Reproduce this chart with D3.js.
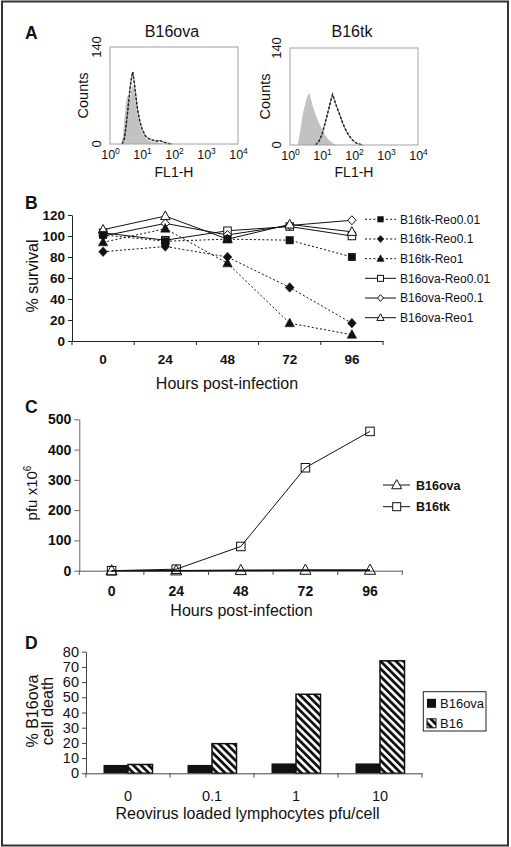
<!DOCTYPE html>
<html><head><meta charset="utf-8">
<script src="https://cdn.jsdelivr.net/npm/d3@7/dist/d3.min.js"></script>
<style>
body{margin:0;background:#fff}
svg{display:block}
text{font-family:"Liberation Sans",Arial,Helvetica,sans-serif;fill:#111}
</style></head><body>
<svg id="fig" width="511" height="847"></svg>
<script>
// ---------------- DATA ----------------
// Panel A: flow cytometry histograms, points are [log10(FL1-H), counts]
const histExponents = ["0","1","2","3","4"];
const countTicks = [0,140];
const histTitles = ["B16ova","B16tk"];
const ovaControl = [[0.35,0],[0.4,10],[0.45,35],[0.5,60],[0.54,70],[0.58,66],[0.62,64],[0.66,76],[0.7,84],[0.74,82],[0.8,62],[0.86,42],[0.94,25],[1.02,15],[1.1,9],[1.2,5],[1.35,3],[1.5,2],[1.7,0]];
const ovaStained = [[0.38,0],[0.45,8],[0.5,25],[0.56,50],[0.62,78],[0.67,95],[0.71,104],[0.75,92],[0.8,72],[0.86,50],[0.93,33],[1.0,22],[1.1,12],[1.2,8],[1.3,6],[1.45,4],[1.56,5],[1.65,3],[1.8,1],[1.95,0]];
const tkControl = [[0.24,0],[0.3,15],[0.4,45],[0.5,64],[0.56,72],[0.6,75],[0.64,69],[0.7,58],[0.8,44],[0.9,32],[1.0,23],[1.1,14],[1.2,8],[1.3,4],[1.4,1],[1.5,0]];
const tkStained = [[0.8,0],[0.9,5],[1.0,15],[1.1,32],[1.2,50],[1.28,65],[1.33,73],[1.38,66],[1.46,55],[1.56,43],[1.66,30],[1.77,19],[1.9,10],[2.0,5],[2.1,2],[2.28,0]];

// Panel B: % survival
const hours = ["0","24","48","72","96"];
const survivalTicks = [0,20,40,60,80,100,120];
const survivalNames = ["B16tk-Reo0.01","B16tk-Reo0.1","B16tk-Reo1","B16ova-Reo0.01","B16ova-Reo0.1","B16ova-Reo1"];
const tkReo001  = [101,95,97,96,80];
const tkReo01   = [85,90,80,51,17];
const tkReo1    = [94,107,74,17,6];
const ovaReo001 = [103,96,105,109,100];
const ovaReo01  = [100,112,101,110,115];
const ovaReo1   = [106,119,97,111,104];

// Panel C: pfu x10^6
const pfuTicks = [0,100,200,300,400,500];
const pfuNames = ["B16ova","B16tk"];
const pfuOva = [0,0,1,2,2];
const pfuTk  = [0,5,80,340,460];

// Panel D: % B16ova cell death
const moi = ["0","0.1","1","10"];
const deathTicks = [0,10,20,30,40,50,60,70,80];
const deathNames = ["B16ova","B16"];
const deathOva = [5.5,5.5,6.5,6.5];
const deathB16 = [5.8,19.5,52,74];

// ---------------- DRAW ----------------
const svg = d3.select("#fig");
svg.append("rect").attr("width",511).attr("height",847).attr("fill","#fff");
svg.append("rect").attr("x",2).attr("y",1.5).attr("width",506).attr("height",844)
  .attr("fill","none").attr("stroke","#333").attr("stroke-width",2);

const defs = svg.append("defs");
const pat = defs.append("pattern").attr("id","hatch").attr("patternUnits","userSpaceOnUse")
  .attr("width",5.4).attr("height",5.4).attr("patternTransform","rotate(-45)");
pat.append("rect").attr("width",5.4).attr("height",5.4).attr("fill","#fff");
pat.append("rect").attr("width",2.8).attr("height",5.4).attr("fill","#111");

function letter(t,x,y){
  svg.append("text").attr("x",x).attr("y",y).attr("font-size",17.5).attr("font-weight","bold").text(t);
}
function marker(g,type,open,x,y,s){
  let el;
  if(type==="square") el=g.append("rect").attr("x",x-s/2).attr("y",y-s/2).attr("width",s).attr("height",s);
  else if(type==="diamond") el=g.append("path").attr("d",`M${x},${y-s*0.6}L${x+s*0.55},${y}L${x},${y+s*0.6}L${x-s*0.55},${y}Z`);
  else el=g.append("path").attr("d",`M${x},${y-s*0.6}L${x+s*0.56},${y+s*0.42}L${x-s*0.56},${y+s*0.42}Z`);
  el.attr("fill",open?"#fff":"#111").attr("stroke","#111").attr("stroke-width",open?1:0.5);
  return el;
}
function styleAxis(g,size,weight,color){
  g.selectAll("text").attr("font-size",size).attr("font-weight",weight).attr("fill","#111")
   .attr("font-family","Liberation Sans, Arial, sans-serif");
  g.selectAll("line,path").attr("stroke",color);
}

// ---------- Panel A ----------
letter("A",25,39);
function hist(cfg){
  const x=d3.scaleLinear().domain([0,4]).range([cfg.left,cfg.right]);
  const y=d3.scaleLinear().domain([0,140]).range([cfg.bottom,cfg.top]);
  const g=svg.append("g");
  g.append("path").datum(cfg.control)
    .attr("d",d3.area().x(d=>x(d[0])).y0(y(0)).y1(d=>y(d[1])))
    .attr("fill","#c2c2c2");
  g.append("path").datum(cfg.stained)
    .attr("d",d3.line().x(d=>x(d[0])).y(d=>y(d[1])))
    .attr("fill","none").attr("stroke","#666").attr("stroke-width",0.8);
  g.append("path").datum(cfg.stained)
    .attr("d",d3.line().x(d=>x(d[0])).y(d=>y(d[1])))
    .attr("fill","none").attr("stroke","#222").attr("stroke-width",1.5).attr("stroke-dasharray","2.5,1.8");
  g.append("rect").attr("x",cfg.left).attr("y",cfg.top).attr("width",cfg.right-cfg.left)
    .attr("height",cfg.bottom-cfg.top).attr("fill","none").attr("stroke","#a0a0a0").attr("stroke-width",1);
  const ax=g.append("g").attr("transform",`translate(0,${cfg.bottom})`)
    .call(d3.axisBottom(x).tickValues(histExponents.map(Number)).tickSize(0).tickPadding(9).tickFormat(""));
  ax.select(".domain").remove();
  ax.selectAll(".tick text").each(function(d){
    const t=d3.select(this).attr("font-size",12.5).attr("fill","#111").attr("dy",null).attr("y",14.5);
    t.append("tspan").text("10");
    t.append("tspan").attr("dy",-5).attr("font-size",8.5).text(histExponents[d]);
  });
  countTicks.forEach(v=>{
    g.append("text").attr("transform",`translate(${cfg.left-9},${y(v)}) rotate(-90)`)
      .attr("text-anchor","middle").attr("font-size",13).text(v);
  });
  g.append("text").attr("transform",`translate(${cfg.countsX},${(cfg.top+cfg.bottom)/2}) rotate(-90)`)
    .attr("text-anchor","middle").attr("font-size",14.5).text("Counts");
  g.append("text").attr("x",(cfg.left+cfg.right)/2-2).attr("y",37.3).attr("text-anchor","middle")
    .attr("font-size",16).text(cfg.title);
  g.append("text").attr("x",(cfg.left+cfg.right)/2-0).attr("y",176.5).attr("text-anchor","middle")
    .attr("font-size",14).text("FL1-H");
}
hist({left:110,right:238,top:47,bottom:144,control:ovaControl,stained:ovaStained,title:histTitles[0],countsX:88});
hist({left:290,right:418,top:48,bottom:145,control:tkControl,stained:tkStained,title:histTitles[1],countsX:270});

// ---------- Panel B ----------
letter("B",25,209.3);
{
  const x=d3.scaleBand().domain(hours).range([72,383]);
  const y=d3.scaleLinear().domain([0,120]).range([341,215]);
  const g=svg.append("g");
  const ya=g.append("g").attr("transform","translate(72,0)")
    .call(d3.axisLeft(y).tickValues(survivalTicks).tickSize(4).tickSizeOuter(0).tickPadding(3));
  styleAxis(ya,13.5,"bold","#222");
  const xa=g.append("g").attr("transform","translate(0,341)")
    .call(d3.axisBottom(x).tickSize(0).tickSizeOuter(0).tickPadding(13));
  styleAxis(xa,13.5,"bold","#222");
  const bounds=hours.map(h=>x(h)).concat([x.range()[1]]);
  g.selectAll(".bt").data(bounds).enter().append("line")
    .attr("x1",d=>d).attr("x2",d=>d).attr("y1",341).attr("y2",345).attr("stroke","#222");
  g.append("text").attr("x",227).attr("y",389).attr("text-anchor","middle").attr("font-size",16).text("Hours post-infection");
  g.append("text").attr("transform","translate(37.5,276) rotate(-90)").attr("text-anchor","middle")
    .attr("font-size",16).text("% survival");

  const series=[
    {name:survivalNames[3],vals:ovaReo001,type:"square",open:true,dash:false,s:7.5,ls:6},
    {name:survivalNames[4],vals:ovaReo01,type:"diamond",open:true,dash:false,s:7.5,ls:5.5},
    {name:survivalNames[5],vals:ovaReo1,type:"triangle",open:true,dash:false,s:8.5,ls:6.5},
    {name:survivalNames[0],vals:tkReo001,type:"square",open:false,dash:true,s:7.5,ls:5.5},
    {name:survivalNames[1],vals:tkReo01,type:"diamond",open:false,dash:true,s:8,ls:6},
    {name:survivalNames[2],vals:tkReo1,type:"triangle",open:false,dash:true,s:8.5,ls:6.5}
  ];
  const line=d3.line().x((d,i)=>x(hours[i])+x.bandwidth()/2).y(d=>y(d));
  series.forEach(s=>{
    g.append("path").datum(s.vals).attr("d",line).attr("fill","none").attr("stroke","#111")
      .attr("stroke-width",1).attr("stroke-dasharray",s.dash?"2,2.2":null);
  });
  series.forEach(s=>{
    s.vals.forEach((v,i)=>marker(g,s.type,s.open,x(hours[i])+x.bandwidth()/2,y(v),s.s));
  });
  // legend
  const order=[3,4,5,0,1,2];
  const ly=d3.scalePoint().domain(survivalNames).range([219.3,317.7]);
  order.forEach(k=>{
    const s=series[k]; const yy=ly(s.name);
    g.append("line").attr("x1",365).attr("x2",396).attr("y1",yy).attr("y2",yy)
      .attr("stroke","#111").attr("stroke-width",1).attr("stroke-dasharray",s.dash?"2,2.2":null);
    marker(g,s.type,s.open,380.5,yy,s.ls);
    g.append("text").attr("x",400).attr("y",yy+4.3).attr("font-size",12).text(s.name);
  });
}

// ---------- Panel C ----------
letter("C",25,413.3);
{
  const x=d3.scaleBand().domain(hours).range([79.3,402.3]);
  const y=d3.scaleLinear().domain([0,500]).range([570.7,419.3]);
  const g=svg.append("g");
  const ya=g.append("g").attr("transform","translate(79.3,0)")
    .call(d3.axisLeft(y).tickValues(pfuTicks).tickSize(5).tickSizeOuter(0).tickPadding(3));
  styleAxis(ya,14,"bold","#666");
  const xa=g.append("g").attr("transform","translate(0,570.7)")
    .call(d3.axisBottom(x).tickSize(0).tickSizeOuter(0).tickPadding(15));
  styleAxis(xa,14,"bold","#555");
  const bounds=hours.map(h=>x(h)).concat([x.range()[1]]);
  g.selectAll(".bt").data(bounds).enter().append("line")
    .attr("x1",d=>d).attr("x2",d=>d).attr("y1",570.7).attr("y2",575).attr("stroke","#555");
  g.append("text").attr("x",241.5).attr("y",615.5).attr("text-anchor","middle").attr("font-size",16).text("Hours post-infection");
  const yl=g.append("text").attr("transform","translate(37,493) rotate(-90)").attr("text-anchor","middle").attr("font-size",15);
  yl.append("tspan").text("pfu x10");
  yl.append("tspan").attr("dy",-6).attr("font-size",10).text("6");
  const line=d3.line().x((d,i)=>x(hours[i])+x.bandwidth()/2).y(d=>y(d));
  g.append("path").datum(pfuOva).attr("d",line).attr("fill","none").attr("stroke","#111").attr("stroke-width",1.6);
  g.append("path").datum(pfuTk).attr("d",line).attr("fill","none").attr("stroke","#111").attr("stroke-width",1);
  pfuOva.forEach((v,i)=>marker(g,"triangle",true,x(hours[i])+x.bandwidth()/2,y(v),10).attr("fill","none"));
  pfuTk.forEach((v,i)=>marker(g,"square",true,x(hours[i])+x.bandwidth()/2,y(v),8.5).attr("fill","none"));
  const ly=d3.scalePoint().domain(pfuNames).range([485,506.7]);
  pfuNames.forEach((n,k)=>{
    const yy=ly(n);
    g.append("line").attr("x1",383).attr("x2",410).attr("y1",yy).attr("y2",yy).attr("stroke","#111");
    marker(g,k===0?"triangle":"square",true,396.7,yy,k===0?9:8);
    g.append("text").attr("x",416).attr("y",yy+4.5).attr("font-size",12.5).attr("font-weight","bold").text(n);
  });
}

// ---------- Panel D ----------
letter("D",25,649.3);
{
  const x=d3.scaleBand().domain(moi).range([86,422]);
  const xs=d3.scaleBand().domain(deathNames).range([-24.5,24.5]);
  const y=d3.scaleLinear().domain([0,80]).range([773.3,651.7]);
  const g=svg.append("g");
  const ya=g.append("g").attr("transform","translate(86,0)")
    .call(d3.axisLeft(y).tickValues(deathTicks).tickSize(4).tickSizeOuter(0).tickPadding(3));
  styleAxis(ya,14.5,"normal","#444");
  const cx=m=>x(m)+x.bandwidth()/2;
  deathOva.forEach((v,i)=>{
    g.append("rect").attr("x",cx(moi[i])+xs(deathNames[0])).attr("y",y(v))
      .attr("width",xs.bandwidth()).attr("height",y(0)-y(v)).attr("fill","#111");
  });
  deathB16.forEach((v,i)=>{
    g.append("rect").attr("x",cx(moi[i])+xs(deathNames[1])).attr("y",y(v))
      .attr("width",xs.bandwidth()).attr("height",y(0)-y(v)).attr("fill","url(#hatch)")
      .attr("stroke","#111").attr("stroke-width",1.5);
  });
  const xa=g.append("g").attr("transform","translate(0,773.3)")
    .call(d3.axisBottom(x).tickSize(0).tickSizeOuter(0).tickPadding(17));
  styleAxis(xa,14.5,"normal","#444");
  const bounds=moi.map(m=>x(m)).concat([x.range()[1]]);
  g.selectAll(".bt").data(bounds).enter().append("line")
    .attr("x1",d=>d).attr("x2",d=>d).attr("y1",773.3).attr("y2",777.5).attr("stroke","#444");
  g.append("text").attr("x",247.5).attr("y",818.5).attr("text-anchor","middle").attr("font-size",16)
    .text("Reovirus loaded lymphocytes pfu/cell");
  g.append("text").attr("transform","translate(38,711) rotate(-90)").attr("text-anchor","middle").attr("font-size",16).text("% B16ova");
  g.append("text").attr("transform","translate(53,711) rotate(-90)").attr("text-anchor","middle").attr("font-size",16).text("cell death");
  // legend
  g.append("rect").attr("x",423.3).attr("y",691.7).attr("width",62.7).attr("height",39.3)
    .attr("fill","#fff").attr("stroke","#222").attr("stroke-width",1);
  const ly=d3.scalePoint().domain(deathNames).range([703.3,723.3]);
  g.append("rect").attr("x",427).attr("y",ly(deathNames[0])-4.5).attr("width",9).attr("height",9).attr("fill","#111");
  g.append("rect").attr("x",427).attr("y",ly(deathNames[1])-4.5).attr("width",9).attr("height",9)
    .attr("fill","url(#hatch)").attr("stroke","#111").attr("stroke-width",1);
  deathNames.forEach(n=>{
    g.append("text").attr("x",440).attr("y",ly(n)+4.8).attr("font-size",13).text(n);
  });
}
</script>
</body></html>
